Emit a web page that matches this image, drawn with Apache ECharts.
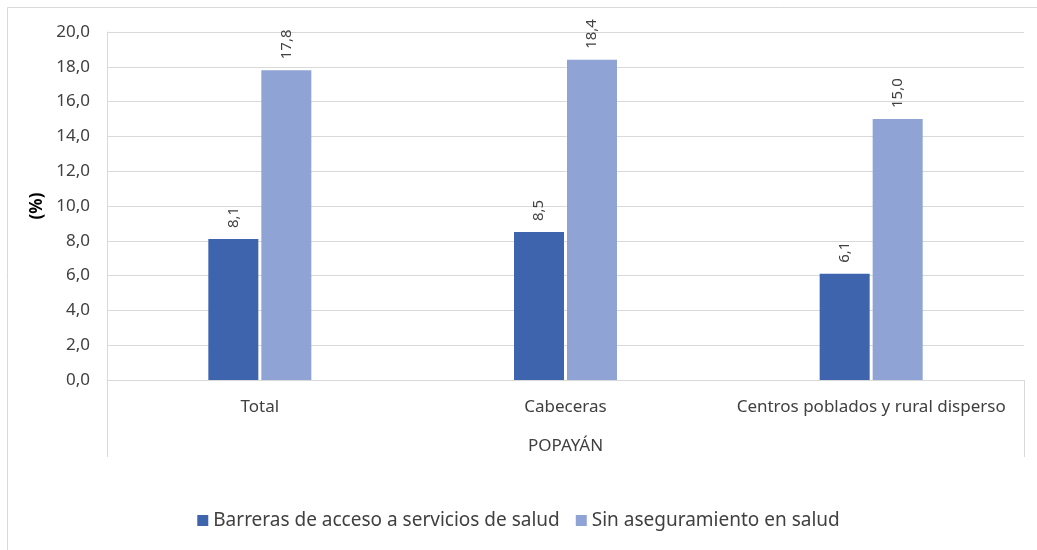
<!DOCTYPE html>
<html>
<head>
<meta charset="utf-8">
<script src="https://cdn.jsdelivr.net/npm/echarts@6/dist/echarts.min.js"></script>
<style>html,body{margin:0;padding:0;background:#fff}#c{width:1037px;height:550px}</style>
</head>
<body>
<div id="c"></div>
<script>
const categories = ['Total', 'Cabeceras', 'Centros poblados y rural disperso'];
const groupLabel = ['POPAYÁN'];
const seriesNames = ['Barreras de acceso a servicios de salud', 'Sin aseguramiento en salud'];
const barreras = [8.1, 8.5, 6.1];
const sinAseguramiento = [17.8, 18.4, 15.0];
const yAxisName = '(%)';

const fmt = v => v.toFixed(1).replace('.', ',');
const FONT = 'Noto Sans';
const TXT = '#404040';
const GRID = '#d9d9d9';

const chart = echarts.init(document.getElementById('c'));
const labelCfg = {
  show: true, position: 'top', rotate: 90, align: 'left', verticalAlign: 'middle',
  distance: 11, color: TXT, fontFamily: FONT, fontSize: 15,
  formatter: p => fmt(p.value)
};
chart.setOption({
  animation: false,
  graphic: [{
    type: 'rect', shape: { x: 7.5, y: 7.5, width: 1100, height: 600 },
    style: { fill: 'none', stroke: GRID, lineWidth: 1 }, silent: true
  }],
  grid: { left: 107, right: 13, top: 32, bottom: 170 },
  legend: {
    bottom: 15, left: 'center', itemWidth: 11, itemHeight: 11, itemGap: 16,
    icon: 'rect',
    textStyle: { color: TXT, fontFamily: FONT, fontSize: 19 },
    data: seriesNames
  },
  xAxis: [{
    type: 'category', data: categories,
    axisLine: { show: true, lineStyle: { color: GRID } },
    axisTick: { show: false },
    axisLabel: { color: TXT, fontFamily: FONT, fontSize: 17, margin: 19, interval: 0 }
  }, {
    type: 'category', data: groupLabel, position: 'bottom',
    axisLine: { show: false },
    axisTick: { show: true, length: 77, lineStyle: { color: GRID } },
    axisLabel: { color: TXT, fontFamily: FONT, fontSize: 17, margin: 58 }
  }],
  yAxis: {
    type: 'value', min: 0, max: 20, interval: 2,
    name: yAxisName, nameLocation: 'middle', nameGap: 57, nameRotate: 90,
    nameTextStyle: { color: '#000', fontFamily: FONT, fontSize: 17, fontWeight: 'bold' },
    axisLine: { show: true, lineStyle: { color: GRID } },
    axisTick: { show: false },
    splitLine: { lineStyle: { color: GRID } },
    axisLabel: { color: TXT, fontFamily: FONT, fontSize: 17, margin: 17, formatter: v => fmt(v) }
  },
  series: [{
    name: seriesNames[0], type: 'bar', data: barreras, barWidth: 50, barGap: '6%',
    itemStyle: { color: '#3D64AD' }, label: labelCfg
  }, {
    name: seriesNames[1], type: 'bar', data: sinAseguramiento, barWidth: 50, barGap: '6%',
    itemStyle: { color: '#8FA3D4' }, label: labelCfg
  }]
});
</script>
</body>
</html>
